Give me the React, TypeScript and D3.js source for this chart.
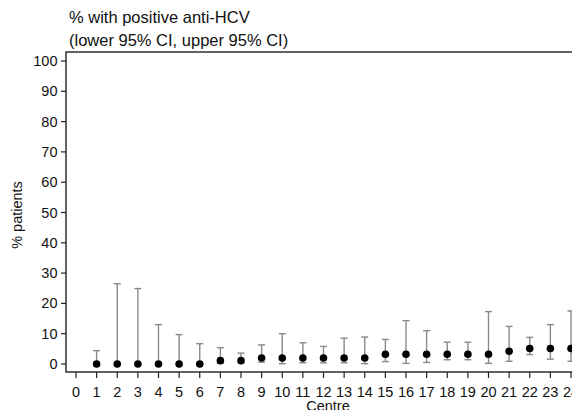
import React from "react";
import * as d3 from "d3";

const centres = [1, 2, 3, 4, 5, 6, 7, 8, 9, 10, 11, 12, 13, 14, 15, 16, 17, 18, 19, 20, 21, 22, 23, 24];
const pct = [0, 0, 0, 0, 0, 0, 1.1, 1.1, 2, 2, 2, 2, 2, 2, 3.2, 3.2, 3.2, 3.2, 3.2, 3.2, 4.2, 5.1, 5.1, 5.1];
const lower = [0, 0, 0, 0, 0, 0, 0.3, 0.5, 0.6, 0.1, 0.4, 0.4, 0.4, 0.1, 0.8, 0.2, 0.5, 1.4, 1.4, 0.2, 0.9, 3.1, 1.6, 0.9];
const upper = [4.4, 26.5, 24.9, 13, 9.7, 6.7, 5.4, 3.6, 6.3, 10, 7, 5.8, 8.5, 8.9, 8.1, 14.3, 11, 7.2, 7.2, 17.3, 12.4, 8.8, 13, 17.5];
const xTicks = d3.range(0, 25);
const yTicks = [0, 10, 20, 30, 40, 50, 60, 70, 80, 90, 100];

export default function App() {
  const W = 572, H = 410;
  const x = d3.scaleLinear().domain([0, 24]).range([76, 571]);
  const y = d3.scaleLinear().domain([0, 100]).range([364, 61]);
  const left = 66, top = 52, bottom = 372, right = 600;
  const font = "Liberation Sans, Arial, sans-serif";
  const errColor = "#8a8a8a";
  return (
    <svg width={W} height={H} style={{ position: "absolute", left: 0, top: 0 }} fontFamily={font}>
      <rect x={0} y={0} width={W} height={H} fill="#fff" />
      <text x={69} y={23} fontSize={16.5} fill="#111">% with positive anti-HCV</text>
      <text x={69} y={45.5} fontSize={16.5} fill="#111">(lower 95% CI, upper 95% CI)</text>
      {/* frame */}
      <rect x={left} y={top} width={right - left} height={bottom - top} fill="none" stroke="#222" strokeWidth={1.4} />
      {/* y axis */}
      {yTicks.map((t) => (
        <g key={"y" + t}>
          <line x1={left - 5} x2={left} y1={y(t)} y2={y(t)} stroke="#222" strokeWidth={1.2} />
          <text x={57.5} y={y(t) + 5} fontSize={14.5} textAnchor="end" fill="#111">{t}</text>
        </g>
      ))}
      <text transform={`translate(22,215) rotate(-90)`} fontSize={14.5} textAnchor="middle" fill="#111">% patients</text>
      {/* x axis */}
      {xTicks.map((t) => (
        <g key={"x" + t}>
          <line x1={x(t)} x2={x(t)} y1={bottom} y2={bottom + 6} stroke="#222" strokeWidth={1.2} />
          <text x={x(t)} y={396.5} fontSize={14.5} textAnchor="middle" fill="#111">{t}</text>
        </g>
      ))}
      <text x={328} y={411} fontSize={14.5} textAnchor="middle" fill="#111">Centre</text>
      {/* error bars */}
      {centres.map((c, i) => (
        <g key={"e" + c} stroke={errColor} strokeWidth={1.4}>
          <line x1={x(c)} x2={x(c)} y1={y(lower[i])} y2={y(upper[i])} />
          <line x1={x(c) - 3.5} x2={x(c) + 3.5} y1={y(upper[i])} y2={y(upper[i])} />
          <line x1={x(c) - 3.5} x2={x(c) + 3.5} y1={y(lower[i])} y2={y(lower[i])} />
        </g>
      ))}
      {centres.map((c, i) => (
        <circle key={"p" + c} cx={x(c)} cy={y(pct[i])} r={3.8} fill="#000" />
      ))}
    </svg>
  );
}
